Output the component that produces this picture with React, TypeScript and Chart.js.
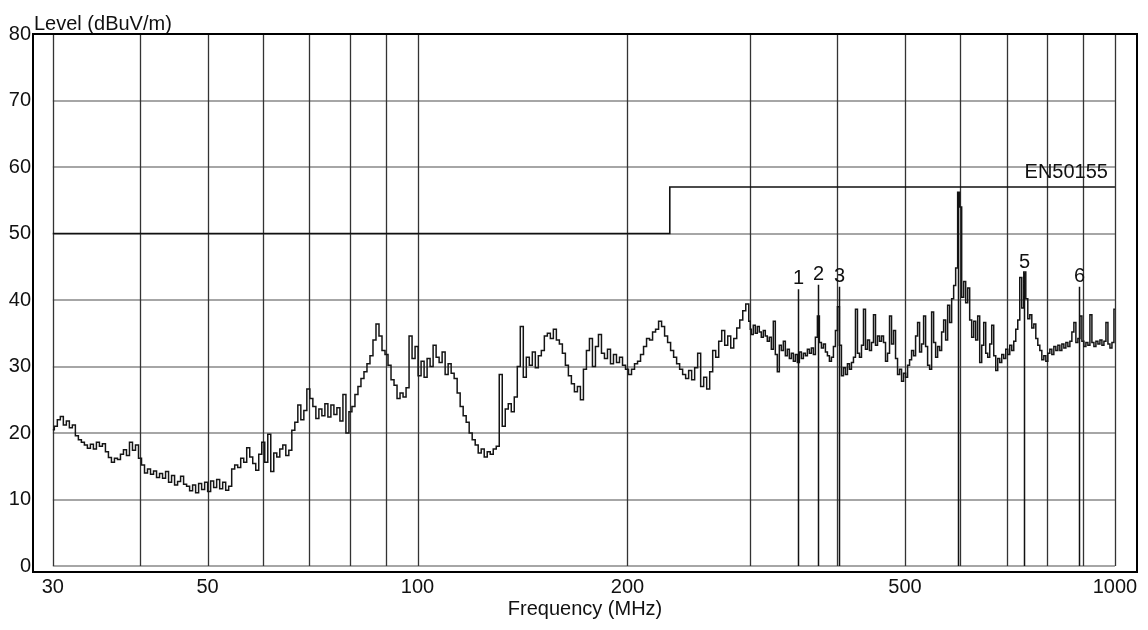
import { useEffect, useRef } from 'react';
import { Chart, registerables } from 'chart.js';

Chart.register(...registerables);

// Receiver scan in two bands, each a log-spaced sweep
const BAND_A_START_MHZ = 30;
const BAND_A_STOP_MHZ = 300;
const BAND_B_START_MHZ = 300;
const BAND_B_STOP_MHZ = 1000;

// Measured field strength (dBuV/m), band A: 30-300 MHz
const LEVELS_A = [
  20.5, 21.0, 22.0, 22.5, 21.2, 21.8, 20.8, 21.2, 19.6, 19.0,
  18.6, 18.2, 17.7, 18.3, 17.6, 18.6, 18.0, 18.4, 17.2, 16.3,
  15.6, 16.2, 16.0, 16.8, 17.5, 16.6, 18.6, 17.4, 18.2, 16.2,
  15.2, 14.0, 14.6, 13.8, 14.3, 13.3, 13.9, 13.2, 14.2, 12.6,
  13.6, 12.2, 12.7, 13.5, 12.3, 12.0, 11.3, 12.2, 11.0, 12.4,
  11.5, 12.6, 11.2, 12.8, 11.8, 13.0, 11.6, 12.6, 11.4, 12.0,
  14.6, 15.2, 14.8, 16.2, 15.6, 17.8, 16.4, 15.4, 14.4, 16.8,
  18.6, 15.6, 19.8, 14.2, 17.0, 16.4, 17.6, 18.2, 16.6, 17.4,
  20.4, 21.6, 24.2, 22.0, 23.4, 26.6, 25.2, 24.0, 22.2, 23.6,
  22.6, 24.4, 22.4, 24.2, 22.8, 23.8, 21.8, 25.8, 20.0, 23.2,
  24.0, 25.8, 27.0, 28.2, 29.2, 30.4, 31.6, 34.0, 36.4, 34.6,
  32.4, 31.8, 30.2, 28.0, 27.2, 25.2, 26.0, 25.4, 26.8, 34.6,
  31.2, 33.0, 28.6, 30.8, 28.4, 31.2, 30.0, 33.2, 31.4, 30.6,
  32.2, 28.8, 30.4, 29.0, 28.2, 26.0, 24.0, 22.6, 21.6, 20.0,
  19.0, 18.2, 17.0, 17.6, 16.4, 17.2, 16.8, 17.6, 18.0, 28.8,
  21.0, 23.6, 24.4, 23.2, 25.4, 30.0, 36.0, 28.4, 31.4, 30.2,
  32.2, 29.8, 31.6, 32.4, 34.6, 35.0, 34.2, 35.6, 34.0, 33.4,
  32.0, 30.2, 28.6, 27.4, 26.2, 27.0, 25.0, 29.6, 32.4, 34.2,
  30.0, 33.0, 34.8, 32.0, 31.2, 32.6, 30.4, 31.8, 30.6, 31.4,
  30.2, 29.6, 28.8, 29.6, 30.4, 30.8, 31.8, 33.0, 34.2, 34.0,
  35.2, 35.6, 36.8, 36.0, 34.6, 33.6, 32.4, 31.4, 30.4, 29.6,
  28.8, 28.2, 29.4, 28.0, 29.8, 32.0, 27.0, 28.4, 26.6, 29.2,
  32.4, 31.4, 33.8, 35.4, 33.2, 34.6, 32.8, 34.2, 35.8, 37.0,
  38.4, 39.4, 36.8,
];

// Measured field strength (dBuV/m), band B: 300-1000 MHz
const LEVELS_B = [
  35.6, 34.8, 36.2, 35.0, 36.0, 35.2, 34.4, 35.4, 34.6, 33.8,
  34.4, 32.6, 36.8, 31.8, 29.2, 33.2, 32.4, 33.8, 31.6, 32.6,
  31.2, 32.0, 30.8, 31.8, 30.6, 32.2, 31.2, 32.0, 31.6, 32.6,
  32.0, 32.8, 31.8, 34.4, 37.6, 33.6, 32.8, 33.4, 32.2, 31.6,
  30.8, 31.4, 33.0, 35.4, 39.0, 33.2, 28.6, 29.8, 28.8, 30.4,
  29.6, 30.6, 31.4, 38.6, 32.0, 31.4, 33.2, 38.6, 32.6, 34.0,
  32.4, 33.6, 37.8, 33.2, 34.6, 33.8, 34.6, 33.6, 30.8, 32.0,
  37.6, 33.4, 35.4, 31.2, 28.8, 29.6, 27.8, 29.0, 28.4, 30.2,
  31.0, 32.4, 31.6, 34.6, 36.6, 32.2, 33.4, 37.6, 33.0, 30.2,
  29.6, 38.2, 33.6, 31.4, 33.0, 32.4, 35.2, 37.0, 34.0, 39.2,
  36.6, 40.2, 42.2, 44.8, 56.2, 54.0, 40.4, 42.8, 39.6, 41.8,
  37.0, 34.4, 36.8, 34.0, 37.6, 30.6, 33.2, 36.6, 32.0, 31.4,
  33.4, 36.2, 31.6, 29.4, 31.2, 30.6, 31.8, 31.2, 32.6, 31.8,
  33.2, 32.4, 33.8, 35.6, 37.0, 43.4, 38.8, 44.2, 40.2, 37.2,
  37.8, 35.8, 36.4, 34.2, 33.2, 32.4, 31.0, 31.6, 30.8, 32.0,
  32.6, 31.8, 33.0, 32.4, 33.2, 32.4, 33.4, 32.8, 33.6, 33.0,
  33.8, 35.2, 36.6, 33.6, 34.2, 37.6, 33.8, 33.0, 33.6, 33.2,
  37.8, 33.6, 33.0, 33.8, 33.4, 34.0, 33.2, 33.8, 36.6, 33.4,
  32.8, 33.6, 38.6,
];

// EN50155 radiated emission limit
const LIMIT_NAME = 'EN50155';
const LIMIT_FREQ = [30, 230, 230, 1000];
const LIMIT_LEVEL = [50, 50, 57, 57];

// Peak markers
const MARKER_FREQ = [351, 375, 402, 596, 741, 888];
const MARKER_LEVEL = [41.6, 42.3, 42.0, 56.2, 44.1, 42.0];
const MARKER_LABEL = ['1', '2', '3', '', '5', '6'];

// Axes
const X_GRID = [30, 40, 50, 60, 70, 80, 90, 100, 200, 300, 400, 500, 600, 700, 800, 900, 1000];
const X_LABELED = [30, 50, 100, 200, 500, 1000];
const Y_GRID = [0, 10, 20, 30, 40, 50, 60, 70, 80];
const Y_TITLE = 'Level (dBuV/m)';
const X_TITLE = 'Frequency (MHz)';

const FONT_FAMILY = '"Liberation Sans", Arial, sans-serif';
const TEXT_COLOR = '#111111';

function sweep(start: number, stop: number, levels: number[]) {
  return levels.map((level, i) => ({
    x: start * Math.pow(stop / start, i / (levels.length - 1)),
    y: level,
  }));
}

const tracePoints = [
  ...sweep(BAND_A_START_MHZ, BAND_A_STOP_MHZ, LEVELS_A),
  ...sweep(BAND_B_START_MHZ, BAND_B_STOP_MHZ, LEVELS_B),
];

const decorPlugin = {
  id: 'emcDecor',
  beforeDatasetsDraw(chart: any) {
    const { ctx, scales } = chart;
    const x = scales.x;
    const y = scales.y;
    const xl = x.getPixelForValue(X_GRID[0]);
    const xr = x.getPixelForValue(X_GRID[X_GRID.length - 1]);
    const yb = y.getPixelForValue(Y_GRID[0]);
    const yt = y.getPixelForValue(Y_GRID[Y_GRID.length - 1]);
    ctx.save();
    ctx.strokeStyle = '#a6a6a6';
    ctx.lineWidth = 2;
    for (const v of Y_GRID) {
      const py = Math.round(y.getPixelForValue(v));
      ctx.beginPath();
      ctx.moveTo(xl, py);
      ctx.lineTo(xr, py);
      ctx.stroke();
    }
    ctx.strokeStyle = '#333333';
    ctx.lineWidth = 1.3;
    for (const f of X_GRID) {
      const px = Math.round(x.getPixelForValue(f)) + 0.5;
      ctx.beginPath();
      ctx.moveTo(px, yb);
      ctx.lineTo(px, yt);
      ctx.stroke();
    }
    ctx.restore();
  },
  afterDatasetsDraw(chart: any) {
    const { ctx, scales, chartArea } = chart;
    const x = scales.x;
    const y = scales.y;
    ctx.save();
    // marker lines and numbers
    ctx.strokeStyle = '#111111';
    ctx.lineWidth = 1.5;
    ctx.fillStyle = TEXT_COLOR;
    ctx.font = `20px ${FONT_FAMILY}`;
    ctx.textAlign = 'center';
    ctx.textBaseline = 'alphabetic';
    MARKER_FREQ.forEach((f, i) => {
      const px = Math.round(x.getPixelForValue(f)) + 0.5;
      const top = y.getPixelForValue(MARKER_LEVEL[i]);
      ctx.beginPath();
      ctx.moveTo(px, y.getPixelForValue(0));
      ctx.lineTo(px, top);
      ctx.stroke();
      if (MARKER_LABEL[i]) ctx.fillText(MARKER_LABEL[i], px, top - 5);
    });
    // limit name
    ctx.textAlign = 'right';
    ctx.fillText(
      LIMIT_NAME,
      x.getPixelForValue(LIMIT_FREQ[LIMIT_FREQ.length - 1]) - 7,
      y.getPixelForValue(LIMIT_LEVEL[LIMIT_LEVEL.length - 1]) - 9
    );
    // level axis title, written across the top
    ctx.textAlign = 'left';
    ctx.fillText(Y_TITLE, chartArea.left + 1, chartArea.top - 4);
    // frame
    ctx.strokeStyle = '#000000';
    ctx.lineWidth = 2;
    ctx.strokeRect(chartArea.left, chartArea.top, chartArea.right - chartArea.left, chartArea.bottom - chartArea.top);
    ctx.restore();
  },
};

export default function App() {
  const canvasRef = useRef<HTMLCanvasElement | null>(null);

  useEffect(() => {
    const canvas = canvasRef.current;
    if (!canvas) return;
    const font = { family: FONT_FAMILY, size: 20 };
    const chart = new Chart(canvas, {
      type: 'line',
      data: {
        datasets: [
          {
            label: 'Level',
            data: tracePoints,
            borderColor: '#151515',
            borderWidth: 1.5,
            pointRadius: 0,
            stepped: 'middle',
            fill: false,
          },
          {
            label: LIMIT_NAME,
            data: LIMIT_FREQ.map((f, i) => ({ x: f, y: LIMIT_LEVEL[i] })),
            borderColor: '#111111',
            borderWidth: 1.6,
            pointRadius: 0,
            fill: false,
          },
        ],
      },
      options: {
        animation: false,
        responsive: false,
        devicePixelRatio: 1,
        layout: { autoPadding: false, padding: { left: 0, top: 34, right: 11, bottom: 0 } },
        plugins: { legend: { display: false }, tooltip: { enabled: false } },
        scales: {
          x: {
            type: 'logarithmic',
            min: 28.1,
            max: 1075.5,
            afterBuildTicks: (s: any) => {
              s.ticks = X_GRID.map((v) => ({ value: v }));
            },
            afterFit: (s: any) => {
              s.height = 58;
            },
            grid: { display: false, drawTicks: false },
            border: { display: false },
            ticks: {
              autoSkip: false,
              maxRotation: 0,
              minRotation: 0,
              padding: 3,
              color: TEXT_COLOR,
              font,
              callback: (v: any) => (X_LABELED.includes(Number(v)) ? String(v) : ''),
            },
            title: {
              display: true,
              text: X_TITLE,
              color: TEXT_COLOR,
              font,
              padding: { top: 0, bottom: 9 },
            },
          },
          y: {
            type: 'linear',
            min: -0.9,
            max: 80,
            afterBuildTicks: (s: any) => {
              s.ticks = Y_GRID.map((v) => ({ value: v }));
            },
            afterFit: (s: any) => {
              s.width = 33;
            },
            grid: { display: false, drawTicks: false },
            border: { display: false },
            ticks: { padding: 2, color: TEXT_COLOR, font, callback: (v: any) => String(v) },
          },
        },
      },
      plugins: [decorPlugin],
    });
    return () => chart.destroy();
  }, []);

  return (
    <div style={{ position: 'fixed', left: 0, top: 0, width: 1148, height: 630, background: '#ffffff' }}>
      <canvas ref={canvasRef} width={1148} height={630} style={{ display: 'block' }} />
    </div>
  );
}
